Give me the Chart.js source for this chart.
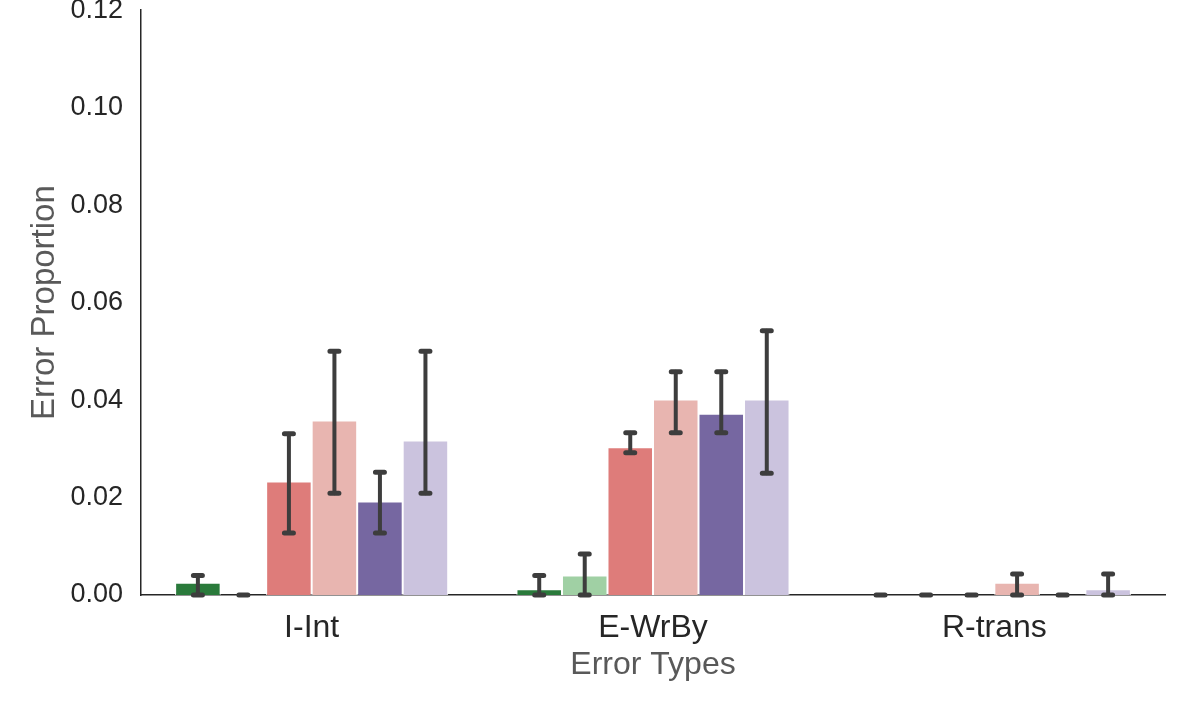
<!DOCTYPE html>
<html>
<head>
<meta charset="utf-8">
<script src="https://cdn.jsdelivr.net/npm/chart.js@4/dist/chart.umd.min.js"></script>
<style>
  html, body { margin: 0; padding: 0; background: #fff; overflow: hidden; }
  #wrap { position: absolute; left: 0; top: -16px; width: 1196px; height: 729px; }
</style>
</head>
<body>
<div id="wrap"><canvas id="chart"></canvas></div>
<script>
const categories = ['I-Int', 'E-WrBy', 'R-trans'];
const seriesNames = ['Group 1', 'Group 2', 'Group 3', 'Group 4', 'Group 5', 'Group 6'];
const seriesColors = ['#2a7a3b', '#a0d0a4', '#de7c7a', '#e8b5b0', '#7667a1', '#cbc3de'];

// mean value per series, one entry per category
const values = [
  [0.0025, 0.0012, 0],
  [0, 0.0040, 0],
  [0.0233, 0.0303, 0],
  [0.0358, 0.0401, 0.0025],
  [0.0192, 0.0372, 0],
  [0.0317, 0.0401, 0.0012],
];
// error bar low / high per series, one entry per category
const errLow = [
  [0, 0, 0],
  [0, 0, 0],
  [0.0127, 0.0292, 0],
  [0.0209, 0.0333, 0],
  [0.0127, 0.0333, 0],
  [0.0209, 0.0250, 0],
];
const errHigh = [
  [0.0040, 0.0040, 0],
  [0, 0.0084, 0],
  [0.0331, 0.0333, 0],
  [0.0500, 0.0458, 0.0043],
  [0.0252, 0.0458, 0],
  [0.0500, 0.0542, 0.0043],
];
const yTicks = [0, 0.02, 0.04, 0.06, 0.08, 0.10, 0.12];

const errorBars = {
  id: 'errorBars',
  afterDatasetsDraw(chart) {
    const ctx = chart.ctx;
    const y = chart.scales.y;
    ctx.save();
    ctx.strokeStyle = '#3d3d3d';
    ctx.lineCap = 'round';
    chart.data.datasets.forEach((ds, i) => {
      const meta = chart.getDatasetMeta(i);
      meta.data.forEach((bar, j) => {
        const x = bar.x;
        const lo = y.getPixelForValue(errLow[i][j]);
        const hi = y.getPixelForValue(errHigh[i][j]);
        const cap = 4.5;
        ctx.lineWidth = 4;
        ctx.beginPath();
        ctx.moveTo(x, lo);
        ctx.lineTo(x, hi);
        ctx.stroke();
        ctx.lineWidth = 5;
        ctx.beginPath();
        ctx.moveTo(x - cap, lo);
        ctx.lineTo(x + cap, lo);
        ctx.moveTo(x - cap, hi);
        ctx.lineTo(x + cap, hi);
        ctx.stroke();
      });
    });
    ctx.restore();
  }
};

const datasets = seriesNames.map((name, i) => ({
  label: name,
  data: values[i],
  backgroundColor: seriesColors[i],
  borderColor: '#ffffff',
  borderWidth: 1,
  borderSkipped: 'bottom',
  barPercentage: 1,
  categoryPercentage: 0.8,
}));

new Chart(document.getElementById('chart'), {
  type: 'bar',
  data: { labels: categories, datasets: datasets },
  plugins: [errorBars],
  options: {
    responsive: true,
    maintainAspectRatio: false,
    animation: false,
    layout: { padding: { top: 0, right: 31, bottom: 18, left: 10 } },
    plugins: {
      legend: { display: false },
      tooltip: { enabled: false },
    },
    scales: {
      x: {
        afterFit(axis) { axis.height = 100; },
        grid: { display: false },
        border: { display: true, color: '#262626', width: 1.5 },
        ticks: {
          color: '#262626',
          padding: 6,
          font: { family: 'Liberation Sans', size: 32 },
        },
        title: {
          display: true,
          text: 'Error Types',
          color: '#595959',
          padding: { top: 0, bottom: 11 },
          font: { family: 'Liberation Sans', size: 32 },
        },
      },
      y: {
        min: 0,
        max: 0.12,
        afterFit(axis) { axis.width = 131; },
        afterBuildTicks(axis) {
          axis.ticks = yTicks.map(v => ({ value: v }));
        },
        grid: { display: false },
        border: { display: true, color: '#262626', width: 1.5 },
        ticks: {
          color: '#262626',
          padding: 10,
          font: { family: 'Liberation Sans', size: 27 },
          callback: v => v.toFixed(2),
        },
        title: {
          display: true,
          text: 'Error Proportion',
          color: '#595959',
          padding: { top: 15, bottom: 0 },
          font: { family: 'Liberation Sans', size: 33 },
        },
      },
    },
  },
});
</script>
</body>
</html>
